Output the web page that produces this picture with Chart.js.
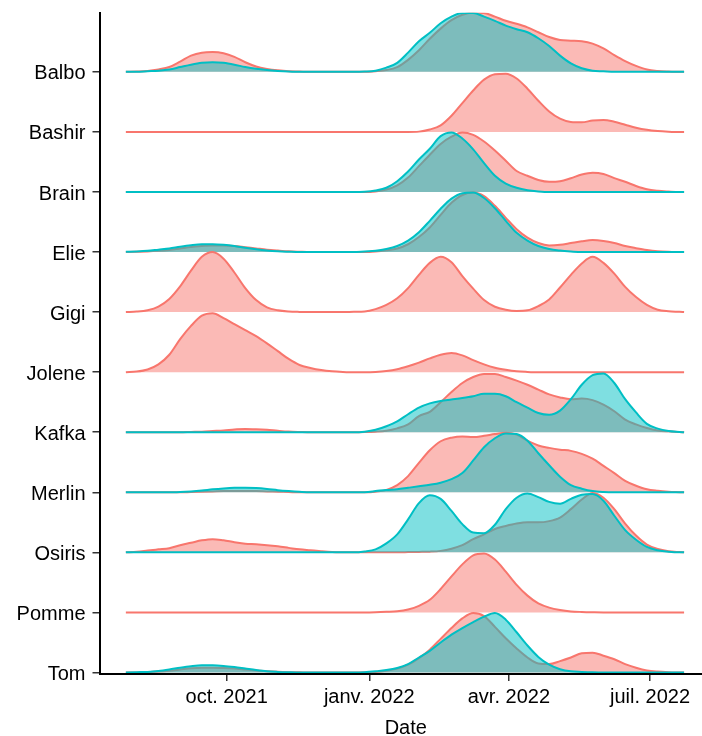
<!DOCTYPE html>
<html>
<head>
<meta charset="utf-8">
<title>Ridgeline</title>
<script src="https://cdn.jsdelivr.net/npm/chart.js@4.4.0/dist/chart.umd.min.js"></script>
<style>
  html, body { margin: 0; padding: 0; background: #fff; overflow: hidden; }
  #wrap { width: 712px; height: 736px; }
</style>
</head>
<body>
<div id="wrap"><canvas id="ridges" width="712" height="736"></canvas></div>
<script>
// Ridgeline densities per person, two groups (red / teal)

const categories = ['Balbo', 'Bashir', 'Brain', 'Elie', 'Gigi', 'Jolene', 'Kafka', 'Merlin', 'Osiris', 'Pomme', 'Tom'];
const tickDates = ['2021-10-01', '2022-01-01', '2022-04-01', '2022-07-01'];
const tickLabels = ['oct. 2021', 'janv. 2022', 'avr. 2022', 'juil. 2022'];
const axisStart = '2021-07-11';
const axisEnd = '2022-08-10';

const dates = [
  '2021-07-28', '2021-08-04', '2021-08-11', '2021-08-18', '2021-08-25', '2021-09-01', '2021-09-08', '2021-09-15', '2021-09-22', '2021-09-29',
  '2021-10-06', '2021-10-13', '2021-10-20', '2021-10-27', '2021-11-03', '2021-11-10', '2021-11-17', '2021-11-24', '2021-12-01', '2021-12-08',
  '2021-12-15', '2021-12-22', '2021-12-29', '2022-01-05', '2022-01-12', '2022-01-19', '2022-01-26', '2022-02-02', '2022-02-09', '2022-02-16',
  '2022-02-23', '2022-03-02', '2022-03-09', '2022-03-16', '2022-03-23', '2022-03-30', '2022-04-06', '2022-04-13', '2022-04-20', '2022-04-27',
  '2022-05-04', '2022-05-11', '2022-05-18', '2022-05-25', '2022-06-01', '2022-06-08', '2022-06-15', '2022-06-22', '2022-06-29', '2022-07-06',
  '2022-07-13', '2022-07-20', '2022-07-23'
];

// heights, 1 = distance between two rows
const balboRed = [0, 0.005, 0.015, 0.04, 0.08, 0.17, 0.27, 0.32, 0.33, 0.31,
  0.25, 0.16, 0.09, 0.05, 0.025, 0.01, 0.005, 0, 0, 0,
  0, 0, 0, 0.01, 0.03, 0.08, 0.2, 0.36, 0.55, 0.72,
  0.86, 0.95, 0.99, 0.98, 0.92, 0.85, 0.8, 0.74, 0.66, 0.58,
  0.53, 0.52, 0.51, 0.47, 0.39, 0.28, 0.18, 0.1, 0.04, 0.015,
  0.005, 0, 0];
const balboTeal = [0, 0, 0.01, 0.02, 0.04, 0.08, 0.12, 0.15, 0.16, 0.15,
  0.12, 0.08, 0.05, 0.03, 0.015, 0.005, 0, 0, 0, 0,
  0, 0, 0.005, 0.02, 0.07, 0.15, 0.32, 0.51, 0.65, 0.81,
  0.92, 0.98, 0.98, 0.92, 0.85, 0.77, 0.71, 0.66, 0.56, 0.43,
  0.27, 0.14, 0.06, 0.02, 0.01, 0, 0, 0, 0, 0,
  0, 0, 0];
const bashirRed = [0, 0, 0, 0, 0, 0, 0, 0, 0, 0,
  0, 0, 0, 0, 0, 0, 0, 0, 0, 0,
  0, 0, 0, 0, 0, 0, 0, 0.005, 0.04, 0.11,
  0.27, 0.48, 0.69, 0.87, 0.96, 0.97, 0.89, 0.72, 0.52, 0.34,
  0.22, 0.165, 0.16, 0.19, 0.2, 0.17, 0.12, 0.07, 0.035, 0.015,
  0.005, 0, 0];
const brainRed = [0, 0, 0, 0, 0, 0, 0, 0, 0, 0,
  0, 0, 0, 0, 0, 0, 0, 0, 0, 0,
  0, 0, 0, 0.01, 0.04, 0.11, 0.24, 0.43, 0.62, 0.8,
  0.92, 0.99, 0.95, 0.84, 0.69, 0.52, 0.35, 0.27, 0.2, 0.17,
  0.18, 0.23, 0.29, 0.32, 0.3, 0.23, 0.17, 0.1, 0.045, 0.02,
  0.008, 0, 0];
const brainTeal = [0, 0, 0, 0, 0, 0, 0, 0, 0, 0,
  0, 0, 0, 0, 0, 0, 0, 0, 0, 0,
  0, 0, 0.005, 0.025, 0.07, 0.18, 0.34, 0.54, 0.72, 0.93,
  0.99, 0.89, 0.71, 0.48, 0.27, 0.14, 0.07, 0.03, 0.01, 0,
  0, 0, 0, 0, 0, 0, 0, 0, 0, 0,
  0, 0, 0];
const elieRed = [0, 0.005, 0.01, 0.02, 0.035, 0.06, 0.085, 0.1, 0.11, 0.11,
  0.1, 0.08, 0.06, 0.04, 0.025, 0.012, 0.005, 0, 0, 0,
  0, 0, 0, 0.01, 0.03, 0.06, 0.13, 0.25, 0.41, 0.62,
  0.82, 0.95, 0.99, 0.93, 0.77, 0.57, 0.38, 0.24, 0.15, 0.11,
  0.12, 0.15, 0.18, 0.2, 0.185, 0.15, 0.1, 0.065, 0.035, 0.015,
  0.005, 0, 0];
const elieTeal = [0.005, 0.01, 0.02, 0.04, 0.06, 0.09, 0.115, 0.13, 0.13, 0.12,
  0.1, 0.07, 0.045, 0.025, 0.012, 0.005, 0, 0, 0, 0,
  0, 0, 0.01, 0.02, 0.05, 0.1, 0.19, 0.33, 0.52, 0.72,
  0.89, 0.98, 0.99, 0.9, 0.73, 0.52, 0.32, 0.19, 0.1, 0.05,
  0.025, 0.01, 0, 0, 0, 0, 0, 0, 0, 0,
  0, 0, 0];
const gigiRed = [0.002, 0.009, 0.032, 0.093, 0.22, 0.43, 0.69, 0.92, 1.0, 0.89,
  0.66, 0.4, 0.2, 0.08, 0.03, 0.01, 0.004, 0.002, 0, 0,
  0, 0.005, 0.01, 0.05, 0.12, 0.23, 0.4, 0.62, 0.82, 0.92,
  0.83, 0.6, 0.39, 0.2, 0.09, 0.04, 0.02, 0.03, 0.1, 0.21,
  0.41, 0.62, 0.81, 0.92, 0.82, 0.64, 0.42, 0.25, 0.12, 0.04,
  0.015, 0.005, 0];
const joleneRed = [0, 0.01, 0.045, 0.13, 0.29, 0.55, 0.77, 0.94, 0.98, 0.9,
  0.8, 0.7, 0.6, 0.48, 0.35, 0.22, 0.12, 0.07, 0.035, 0.015,
  0.005, 0, 0, 0.005, 0.02, 0.05, 0.1, 0.16, 0.23, 0.29,
  0.32, 0.28, 0.2, 0.13, 0.075, 0.04, 0.015, 0.005, 0, 0,
  0, 0, 0, 0, 0, 0, 0, 0, 0, 0,
  0, 0, 0];
const kafkaRed = [0, 0, 0, 0, 0, 0, 0.005, 0.01, 0.02, 0.03,
  0.045, 0.055, 0.05, 0.04, 0.025, 0.012, 0.005, 0, 0, 0,
  0, 0, 0.003, 0.01, 0.025, 0.065, 0.13, 0.27, 0.34, 0.5,
  0.67, 0.82, 0.92, 0.97, 0.97, 0.92, 0.86, 0.79, 0.71, 0.63,
  0.58, 0.55, 0.56, 0.535, 0.46, 0.35, 0.21, 0.13, 0.07, 0.03,
  0.015, 0.005, 0];
const kafkaTeal = [0, 0, 0, 0, 0, 0, 0, 0, 0, 0,
  0, 0, 0, 0, 0, 0, 0, 0, 0, 0,
  0, 0, 0.01, 0.04, 0.1, 0.18, 0.3, 0.41, 0.48, 0.52,
  0.545, 0.57, 0.6, 0.64, 0.64, 0.6, 0.5, 0.41, 0.32, 0.29,
  0.36, 0.55, 0.79, 0.95, 0.98, 0.82, 0.55, 0.33, 0.14, 0.06,
  0.02, 0.005, 0];
const merlinRed = [0, 0, 0, 0, 0, 0, 0.005, 0.01, 0.015, 0.02,
  0.02, 0.02, 0.02, 0.015, 0.01, 0.005, 0, 0, 0, 0,
  0, 0, 0, 0.01, 0.04, 0.12, 0.27, 0.49, 0.7, 0.85,
  0.91, 0.93, 0.92, 0.94, 0.97, 0.99, 0.96, 0.86, 0.78, 0.74,
  0.71, 0.69, 0.64, 0.56, 0.44, 0.32, 0.19, 0.11, 0.05, 0.025,
  0.01, 0.003, 0];
const merlinTeal = [0, 0, 0, 0, 0, 0.005, 0.015, 0.03, 0.05, 0.065,
  0.075, 0.077, 0.07, 0.055, 0.035, 0.02, 0.008, 0, 0, 0,
  0, 0, 0.003, 0.02, 0.04, 0.05, 0.075, 0.1, 0.125, 0.16,
  0.22, 0.32, 0.53, 0.75, 0.9, 0.98, 0.97, 0.86, 0.65, 0.45,
  0.26, 0.12, 0.06, 0.02, 0.005, 0, 0, 0, 0, 0,
  0, 0, 0];
const osirisRed = [0, 0.01, 0.03, 0.05, 0.07, 0.12, 0.16, 0.2, 0.22, 0.2,
  0.17, 0.145, 0.135, 0.12, 0.1, 0.075, 0.05, 0.035, 0.02, 0.008,
  0.003, 0, 0, 0, 0, 0.002, 0.005, 0.008, 0.012, 0.025,
  0.06, 0.12, 0.22, 0.3, 0.39, 0.44, 0.48, 0.5, 0.5, 0.52,
  0.58, 0.72, 0.88, 0.99, 0.91, 0.72, 0.48, 0.28, 0.13, 0.055,
  0.02, 0.005, 0];
const osirisTeal = [0, 0, 0, 0, 0, 0, 0, 0, 0, 0,
  0, 0, 0, 0, 0, 0, 0, 0, 0, 0,
  0, 0, 0.015, 0.05, 0.15, 0.3, 0.55, 0.82, 0.95, 0.89,
  0.69, 0.47, 0.33, 0.32, 0.46, 0.72, 0.91, 0.98, 0.92, 0.84,
  0.81, 0.89, 0.96, 0.97, 0.86, 0.61, 0.37, 0.21, 0.09, 0.035,
  0.01, 0, 0];
const pommeRed = [0, 0, 0, 0, 0, 0, 0, 0, 0, 0,
  0, 0, 0, 0, 0, 0, 0, 0, 0, 0,
  0, 0, 0, 0.003, 0.01, 0.02, 0.05, 0.11, 0.21, 0.39,
  0.6, 0.8, 0.95, 0.98, 0.88, 0.68, 0.46, 0.28, 0.15, 0.08,
  0.04, 0.017, 0.008, 0.003, 0, 0, 0, 0, 0, 0,
  0, 0, 0];
const tomRed = [0, 0, 0.005, 0.015, 0.03, 0.05, 0.07, 0.08, 0.08, 0.075,
  0.065, 0.05, 0.035, 0.022, 0.012, 0.006, 0.003, 0, 0, 0,
  0, 0, 0.003, 0.01, 0.03, 0.065, 0.13, 0.24, 0.38, 0.56,
  0.74, 0.9, 0.99, 0.94, 0.76, 0.57, 0.4, 0.25, 0.15, 0.14,
  0.19, 0.25, 0.32, 0.33, 0.28, 0.22, 0.14, 0.08, 0.035, 0.015,
  0.005, 0, 0];
const tomTeal = [0, 0.005, 0.01, 0.025, 0.05, 0.08, 0.105, 0.12, 0.12, 0.11,
  0.09, 0.065, 0.04, 0.02, 0.01, 0.004, 0, 0, 0, 0,
  0, 0, 0.005, 0.02, 0.04, 0.075, 0.14, 0.25, 0.36, 0.5,
  0.63, 0.74, 0.84, 0.93, 0.99, 0.88, 0.67, 0.45, 0.26, 0.13,
  0.055, 0.02, 0.01, 0.003, 0, 0, 0, 0, 0, 0,
  0, 0, 0];

// rows top to bottom: [red group, teal group]
const rows = [
  [balboRed, balboTeal], [bashirRed, null], [brainRed, brainTeal], [elieRed, elieTeal],
  [gigiRed, null], [joleneRed, null], [kafkaRed, kafkaTeal], [merlinRed, merlinTeal],
  [osirisRed, osirisTeal], [pommeRed, null], [tomRed, tomTeal]
];

const toDay = s => Date.parse(s) / 86400000;
const FONT = 'Liberation Sans, Arial, sans-serif';

const styles = [
  { line: '#F8766D', fill: 'rgba(248, 118, 109, 0.5)' },
  { line: '#00BFC4', fill: 'rgba(0, 191, 196, 0.5)' }
];

// upper rows drawn first, lower rows on top of them
const datasets = [];
let drawn = 0;
rows.forEach((pair, i) => {
  const base = categories.length - 1 - i;
  pair.forEach((values, g) => {
    if (!values) return;
    datasets.push({
      data: dates.map((d, j) => ({ x: toDay(d), y: base + values[j] })),
      borderColor: styles[g].line,
      backgroundColor: styles[g].fill,
      borderWidth: 2,
      fill: { value: base },
      pointRadius: 0,
      cubicInterpolationMode: 'monotone',
      order: 100 - drawn
    });
    drawn++;
  });
});

new Chart(document.getElementById('ridges'), {
  type: 'line',
  data: { datasets },
  options: {
    responsive: false,
    animation: false,
    layout: { padding: { top: 12.7, left: 0, right: 0, bottom: 0 } },
    plugins: {
      legend: { display: false },
      tooltip: { enabled: false }
    },
    scales: {
      x: {
        type: 'linear',
        min: toDay(axisStart),
        max: toDay(axisEnd),
        afterBuildTicks: (scale) => {
          scale.ticks = tickDates.map(d => ({ value: toDay(d) }));
        },
        afterFit: (scale) => { scale.height = 62; },
        grid: { drawOnChartArea: false, drawTicks: true, tickLength: 7, color: '#333', lineWidth: 1.5 },
        border: { display: true, color: '#000', width: 2, z: 1 },
        ticks: {
          autoSkip: false,
          maxRotation: 0,
          padding: 4,
          color: '#000',
          font: { family: FONT, size: 20 },
          callback: (v, i) => tickLabels[i]
        },
        title: {
          display: true,
          text: 'Date',
          color: '#000',
          font: { family: FONT, size: 20, lineHeight: 0.75 },
          padding: { top: 0, bottom: 0 }
        }
      },
      y: {
        type: 'linear',
        min: -0.025,
        max: 10.985,
        afterBuildTicks: (scale) => {
          scale.ticks = categories.map((c, i) => ({ value: i }));
        },
        afterFit: (scale) => {
          scale.width = 99.5;
          scale.paddingTop = 0;
          scale.paddingBottom = 0;
        },
        grid: { drawOnChartArea: false, drawTicks: true, tickLength: 7, color: '#333', lineWidth: 1.5 },
        border: { display: true, color: '#000', width: 2, z: 1 },
        ticks: {
          autoSkip: false,
          padding: 7,
          labelOffset: 2,
          color: '#000',
          font: { family: FONT, size: 20 },
          callback: (v) => categories[categories.length - 1 - v]
        }
      }
    }
  }
});
</script>
</body>
</html>
